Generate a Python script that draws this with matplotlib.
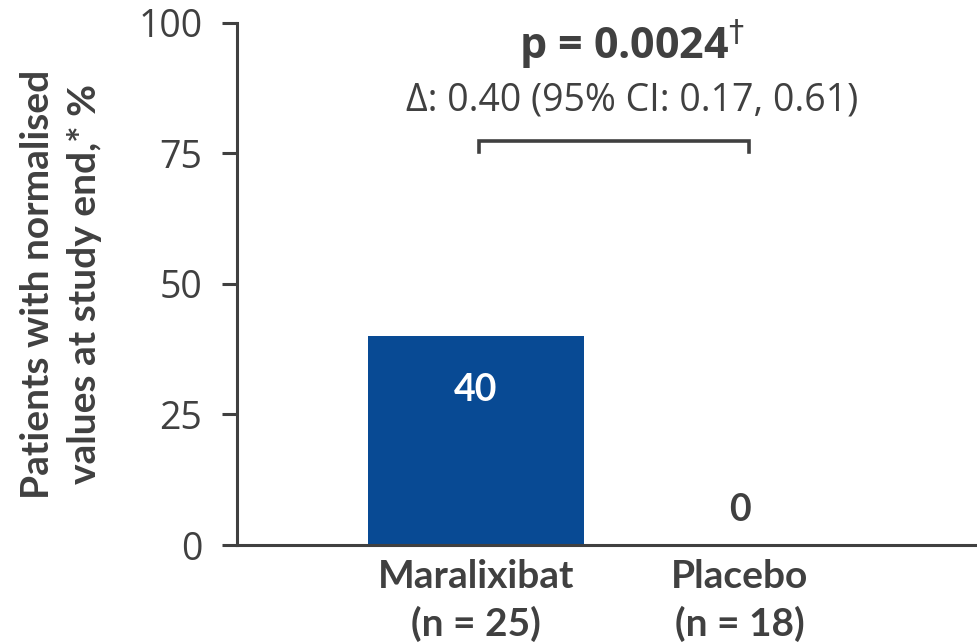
import matplotlib.pyplot as plt

# --- data ---
groups = ["Maralixibat\n(n = 25)", "Placebo\n(n = 18)"]
pct_normalised = [40, 0]
yticks = [0, 25, 50, 75, 100]
p_text = "p = 0.0024$^{\\dagger}$"
delta_text = "\u0394: 0.40 (95% CI: 0.17, 0.61)"

grey = "#404040"
blue = "#084a94"

fig = plt.figure(figsize=(9.77, 6.43), dpi=100)
ax = fig.add_axes([0.2426, 0.1524, 0.7574, 0.812])

x = list(range(len(groups)))
ax.bar(x, pct_normalised, width=0.815, color=blue, zorder=2)

ax.set_xlim(-0.905, 1.898)
ax.set_ylim(0, 100)
ax.set_yticks(yticks)
ax.set_xticks(x)
ax.set_xticklabels(groups, fontfamily="Lato", fontweight="bold",
                   fontsize=28, color=grey, linespacing=1.38)
ax.tick_params(axis="x", length=0, pad=10)
ax.tick_params(axis="y", length=11, width=2.2, color=grey, pad=14,
               labelsize=27, labelcolor=grey)
for lbl in ax.get_yticklabels():
    lbl.set_fontfamily("Open Sans")

for side in ["top", "right"]:
    ax.spines[side].set_visible(False)
for side in ["left", "bottom"]:
    ax.spines[side].set_linewidth(2.2)
    ax.spines[side].set_color(grey)

ax.set_ylabel("Patients with normalised\nvalues at study end,* %",
              fontfamily="Lato", fontweight="bold", fontsize=28,
              color=grey, linespacing=1.4, labelpad=26)

# value labels
ax.text(x[0], pct_normalised[0] - 10.3, f"{pct_normalised[0]}", ha="center",
        va="center", color="white", fontfamily="Lato", fontweight="bold",
        fontsize=27)
ax.text(x[1], pct_normalised[1] + 6.7, f"{pct_normalised[1]}", ha="center",
        va="center", color=grey, fontfamily="Lato", fontweight="bold",
        fontsize=27)

# comparison bracket
bx0, bx1 = x[0] + 0.01, x[1] + 0.035
ax.plot([bx0, bx0, bx1, bx1], [75.3, 77.3, 77.3, 75.3], color=grey,
        lw=2.6, clip_on=False, solid_joinstyle="miter")
ax.text(0.59, 95.8, p_text, ha="center", va="center", color=grey,
        fontfamily="Open Sans", fontweight="bold", fontsize=31)
ax.text(0.59, 85.2, delta_text, ha="center", va="center", color=grey,
        fontfamily="Open Sans", fontsize=27)

fig.savefig("out.png", dpi=100)
